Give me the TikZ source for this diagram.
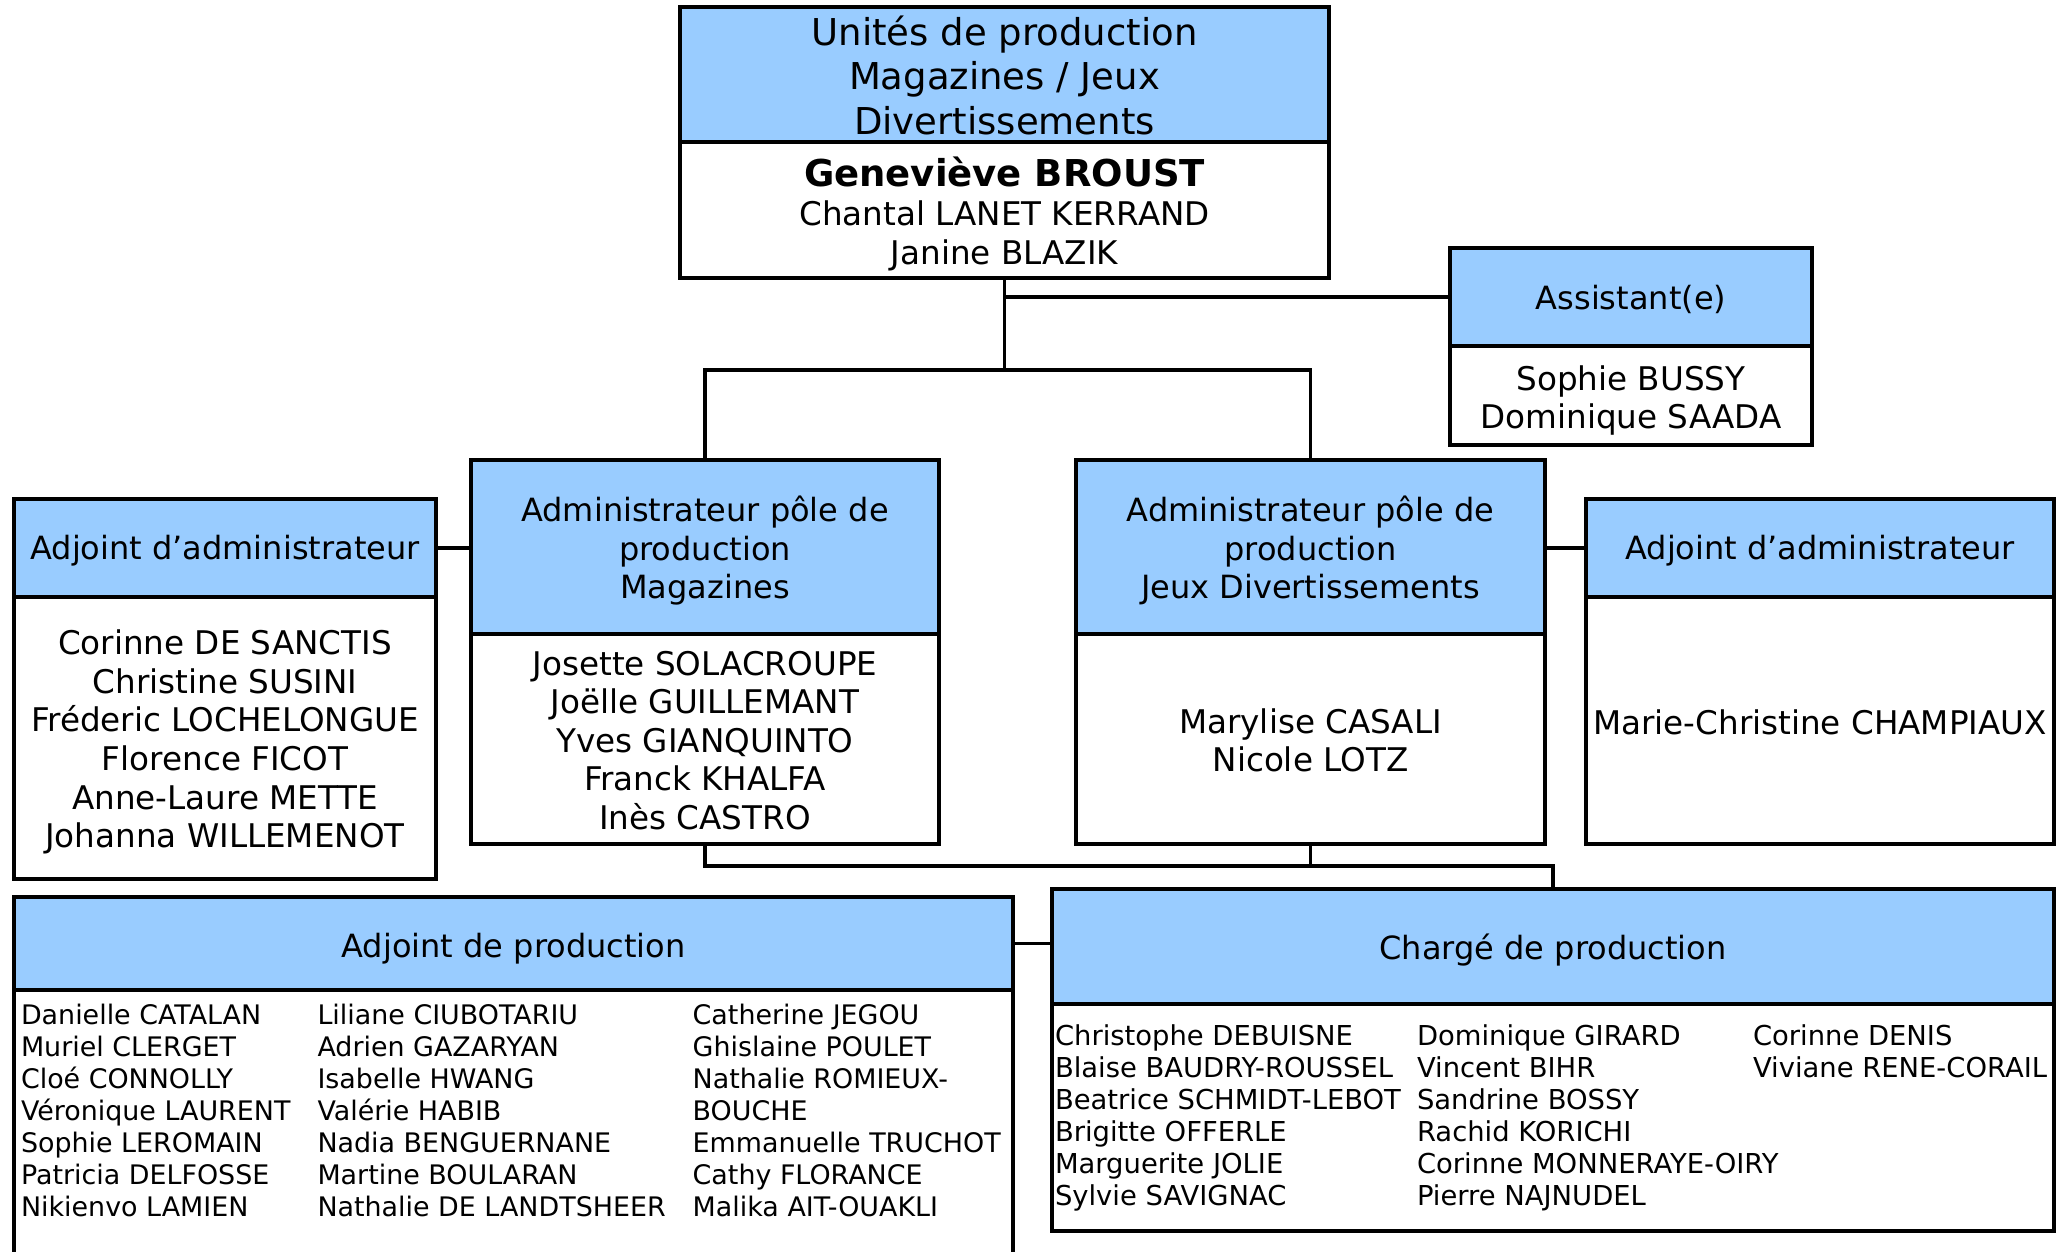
\documentclass[tikz,border=0pt]{standalone}
\usepackage{fontspec}
\setmainfont{DejaVu Sans}
\definecolor{hdrblue}{HTML}{99CCFF}
\begin{document}
\begin{tikzpicture}[x=0.5pt,y=-0.5pt,
  boxbase/.style={draw=black, line width=1.8pt, inner sep=0pt, outer sep=0pt, anchor=north west},
  hdr/.style={boxbase, fill=hdrblue},
  bdy/.style={boxbase, fill=white},
  htxt/.style={inner sep=0pt, align=center, font=\fontsize{16}{19.3}\selectfont},
  btxt/.style={inner sep=0pt, align=center, font=\fontsize{16.3}{19.3}\selectfont},
  conn/.style={draw=black, line width=1.7pt},
  lst/.style={anchor=north west, inner sep=0pt, outer sep=0pt, align=left}]
\useasboundingbox (0,0) rectangle (2057,1252);
\clip (0,0) rectangle (2057,1252);

% top box
\node[hdr, minimum width=324.5pt, minimum height=67.5pt] (topH) at (680,7) {};
\node[htxt, font=\fontsize{18.5}{22.3}\selectfont, yshift=-0.3pt] (topHt) at (topH.center) {Unités de production\\Magazines / Jeux\\Divertissements};
\node[bdy, minimum width=324.5pt, minimum height=68pt] (topB) at (680,142) {};
\node[btxt, font=\fontsize{16.3}{19.7}\selectfont, yshift=-2pt] (topBt) at (topB.center) {\textbf{\fontsize{18.5}{19.7}\selectfont Geneviève BROUST}\\Chantal LANET KERRAND\\Janine BLAZIK};

% assistant
\node[hdr, minimum width=181pt, minimum height=49pt] (asH) at (1450,248) {};
\node[htxt, yshift=-1.3pt] (asHt) at (asH.center) {Assistant(e)};
\node[bdy, minimum width=181pt, minimum height=49.5pt] (asB) at (1450,346) {};
\node[btxt, yshift=-2.6pt] (asBt) at (asB.center) {Sophie BUSSY\\Dominique SAADA};

% administrateurs
\node[hdr, minimum width=234pt, minimum height=87pt] (magH) at (471,460) {};
\node[htxt, yshift=-1.8pt] (magHt) at (magH.center) {Administrateur pôle de\\production\\Magazines};
\node[bdy, minimum width=234pt, minimum height=105pt] (magB) at (471,634) {};
\node[btxt, yshift=-0.7pt] (magBt) at (magB.center) {Josette SOLACROUPE\\Joëlle GUILLEMANT\\Yves GIANQUINTO\\Franck KHALFA\\Inès CASTRO};
\node[hdr, minimum width=234.5pt, minimum height=87pt] (jeuxH) at (1076,460) {};
\node[htxt, yshift=-1.8pt] (jeuxHt) at (jeuxH.center) {Administrateur pôle de\\production\\Jeux Divertissements};
\node[bdy, minimum width=234.5pt, minimum height=105pt] (jeuxB) at (1076,634) {};
\node[btxt, yshift=-0.7pt] (jeuxBt) at (jeuxB.center) {Marylise CASALI\\Nicole LOTZ};

% adjoints d'administrateur
\node[hdr, minimum width=211pt, minimum height=49pt] (adjLH) at (14,499) {};
\node[htxt, yshift=-1.3pt] (adjLHt) at (adjLH.center) {Adjoint d’administrateur};
\node[bdy, minimum width=211pt, minimum height=141pt] (adjLB) at (14,597) {};
\node[btxt, yshift=-2pt] (adjLBt) at (adjLB.center) {Corinne DE SANCTIS\\Christine SUSINI\\Fréderic LOCHELONGUE\\Florence FICOT\\Anne-Laure METTE\\Johanna WILLEMENOT};
\node[hdr, minimum width=234pt, minimum height=49pt] (adjRH) at (1586,499) {};
\node[htxt, yshift=-1.3pt] (adjRHt) at (adjRH.center) {Adjoint d’administrateur};
\node[bdy, minimum width=234pt, minimum height=123.5pt] (adjRB) at (1586,597) {};
\node[btxt, yshift=-0.7pt] (adjRBt) at (adjRB.center) {Marie-Christine CHAMPIAUX};

% adjoint de production
\node[hdr, minimum width=499.5pt, minimum height=46.5pt] (prodH) at (14,897) {};
\node[htxt, yshift=-2.6pt] (prodHt) at (prodH.center) {Adjoint de production};
\node[bdy, minimum width=499.5pt, minimum height=150pt] (prodB) at (14,990) {};
\begin{scope}[every node/.append style={font=\fontsize{13.45}{16}\selectfont}]
\node[lst] (p1) at (21,1004) {Danielle CATALAN\\Muriel CLERGET\\Cloé CONNOLLY\\Véronique LAURENT\\Sophie LEROMAIN\\Patricia DELFOSSE\\Nikienvo LAMIEN};
\node[lst] (p2) at (317.5,1004) {Liliane CIUBOTARIU\\Adrien GAZARYAN\\Isabelle HWANG\\Valérie HABIB\\Nadia BENGUERNANE\\Martine BOULARAN\\Nathalie DE LANDTSHEER};
\node[lst] (p3) at (692.7,1004) {Catherine JEGOU\\Ghislaine POULET\\Nathalie ROMIEUX-\\BOUCHE\\Emmanuelle TRUCHOT\\Cathy FLORANCE\\Malika AIT-OUAKLI};
\end{scope}

% chargé de production
\node[hdr, minimum width=501pt, minimum height=57.5pt] (chH) at (1052,889) {};
\node[htxt, yshift=-2pt] (chHt) at (chH.center) {Chargé de production};
\node[bdy, minimum width=501pt, minimum height=113.5pt] (chB) at (1052,1004) {};
\begin{scope}[every node/.append style={font=\fontsize{13.7}{16}\selectfont}]
\node[lst] (c1) at (1055,1025) {Christophe DEBUISNE\\Blaise BAUDRY-ROUSSEL\\Beatrice SCHMIDT-LEBOT\\Brigitte OFFERLE\\Marguerite JOLIE\\Sylvie SAVIGNAC};
\node[lst] (c2) at (1417,1025) {Dominique GIRARD\\Vincent BIHR\\Sandrine BOSSY\\Rachid KORICHI\\Corinne MONNERAYE-OIRY\\Pierre NAJNUDEL};
\node[lst] (c3) at (1753,1025) {Corinne DENIS\\Viviane RENE-CORAIL};
\end{scope}

% connectors
\coordinate (j1) at (1004.5,370);
\coordinate (j2) at (1553,866);
\draw[conn] (topB.south) -- (j1);
\draw[conn] (topB.south) |- (asH.west);
\draw[conn] (magH.north) |- (j1) -| (jeuxH.north);
\draw[conn] (adjLH.east) -- (adjLH.east -| magH.west);
\draw[conn] (jeuxH.east |- adjRH.west) -- (adjRH.west);
\draw[conn] (magB.south) |- (j2) -- (chH.north);
\draw[conn] (jeuxB.south) -- (jeuxB.south |- j2);
\draw[conn] (prodH.east) -- (prodH.east -| chH.west);
\end{tikzpicture}
\end{document}
